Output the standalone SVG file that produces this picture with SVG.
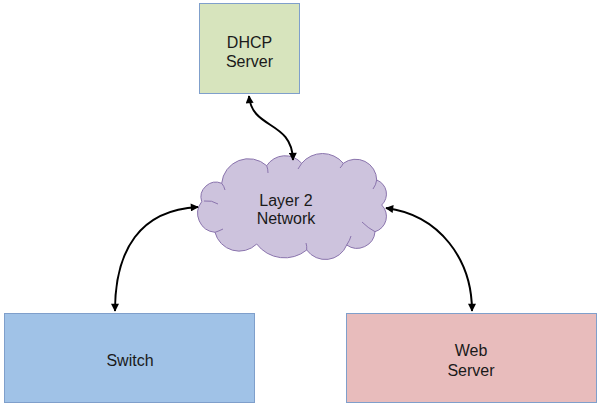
<svg xmlns="http://www.w3.org/2000/svg" width="600" height="406" viewBox="0 0 600 406">
<style>
text{font-family:"Liberation Sans",Arial,sans-serif;font-size:16px;fill:#1a1a1a;text-anchor:middle}
.box{stroke:#7f9fcb;stroke-width:1}
.conn{fill:none;stroke:#000;stroke-width:2;marker-start:url(#ah);marker-end:url(#ah)}
.crease{fill:none;stroke:#8a74ad;stroke-width:1}
</style>
<defs>
<marker id="ah" viewBox="0 0 10 10" refX="9" refY="5" markerUnits="userSpaceOnUse" markerWidth="9" markerHeight="8" orient="auto-start-reverse">
<path d="M0,0 L10,5 L0,10 z" fill="#000"/>
</marker>
</defs>
<rect width="600" height="406" fill="#fff"/>
<g id="dhcp">
<rect class="box" x="199.5" y="3.5" width="100" height="90" fill="#d7e4bd"/>
<text x="249.5" y="48">DHCP</text>
<text x="249.5" y="67">Server</text>
</g>
<g id="network">
<path d="M201.7,201.7 A15,15 0 0 1 221.7,183.3 A27,27 0 0 1 266.7,165.7 A22,22 0 0 1 301.7,163.3 A27,27 0 0 1 343.3,163.3 A21,21 0 0 1 376.7,180 A15,15 0 0 1 381.7,205 A16,16 0 0 1 375,231.7 A18,18 0 0 1 346.7,245 A23,23 0 0 1 306.7,250 A35,35 0 0 1 256.7,244 A25,25 0 0 1 215,232.3 A19,19 0 0 1 201.7,201.7 Z" fill="#cdc3dd" stroke="#8a74ad" stroke-width="1"/>
<path class="crease" d="M204,201 Q212,200 218,204"/>
<path class="crease" d="M221.7,183.3 Q224,186 225,190"/>
<path class="crease" d="M266.7,165.7 Q268,169 268,173"/>
<path class="crease" d="M301.7,163.3 Q300,166 298,169"/>
<path class="crease" d="M343.3,163.3 Q342,166 340,168"/>
<path class="crease" d="M376.7,180 Q376,185 373,189"/>
<path class="crease" d="M375,231.7 Q368,228 362,222"/>
<path class="crease" d="M346.7,245 Q350,240 351,236"/>
<path class="crease" d="M306.7,250 Q307,246 306,243"/>
<path class="crease" d="M215,232.3 Q219,231 223,229"/>
<text x="286" y="206">Layer 2</text>
<text x="286" y="224">Network</text>
</g>
<g id="switch">
<rect class="box" x="4.5" y="313.5" width="250" height="89" fill="#a0c2e7"/>
<text x="130" y="366">Switch</text>
</g>
<g id="webserver">
<rect class="box" x="346.5" y="313.5" width="250" height="89" fill="#e8bcbc"/>
<text x="471" y="356">Web</text>
<text x="471" y="376">Server</text>
</g>
<g id="connectors">
<path class="conn" d="M249,96 C252,130 292,120 293,160"/>
<path class="conn" d="M115,311 C115,250 140,210 198,207"/>
<path class="conn" d="M386,208 C440,215 472,260 472,311"/>
</g>
</svg>
